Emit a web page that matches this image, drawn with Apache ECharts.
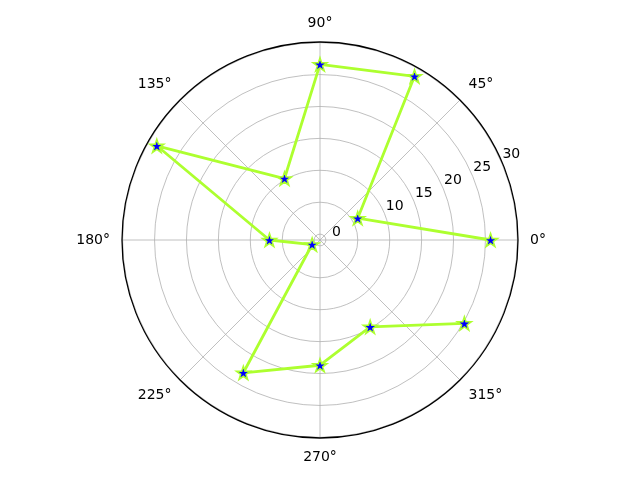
<!DOCTYPE html>
<html>
<head>
<meta charset="utf-8">
<script src="https://cdn.jsdelivr.net/npm/echarts@6/dist/echarts.min.js"></script>
<style>
  html, body { margin: 0; padding: 0; background: #fff; }
  #demo { width: 640px; height: 480px; }
</style>
</head>
<body>
<div id="demo"></div>
<script>
// 数据：角度(度) 和 半径
var angles = [0, 30, 60, 90, 120, 150, 180, 210, 240, 270, 300, 330];
var radii = [25.8, 5.9, 28.7, 26.6, 10.2, 28.6, 7.0, 0.5, 23.1, 18.7, 14.8, 25.2];
var ringValues = [0, 5, 10, 15, 20, 25, 30];
var radiusLabels = [0, 10, 15, 20, 25, 30];

// 五角星 marker
var star = 'path://M100,0 L122.45,69.1 L195.1,69.1 L136.3,111.8 L158.8,180.9 L100,138.2 L41.2,180.9 L63.7,111.8 L4.9,69.1 L77.55,69.1 Z';

var points = [];
for (var i = 0; i < angles.length; i++) {
    points.push([radii[i], angles[i]]);
}

var myChart = echarts.init(document.getElementById('demo'));
var option = {
    animation: false,
    textStyle: { fontFamily: 'DejaVu Sans' },
    polar: [
        { center: [320, 240], radius: 198 },
        { center: [320, 240], radius: 220 }
    ],
    angleAxis: [
        {
            polarIndex: 0,
            type: 'value',
            min: 0,
            max: 360,
            interval: 45,
            startAngle: 0,
            clockwise: false,
            axisLine: { show: true, lineStyle: { color: '#000', width: 1.3 } },
            axisTick: { show: false },
            axisLabel: {
                margin: 12,
                color: '#000',
                fontSize: 14,
                showMaxLabel: false,
                formatter: function (v) { return v == 360 ? '' : v + '°'; }
            },
            splitLine: { show: true, lineStyle: { color: '#b0b0b0', width: 0.8 } }
        },
        {
            polarIndex: 1,
            type: 'value',
            min: 0,
            max: 360,
            startAngle: 24,
            clockwise: false,
            show: false
        }
    ],
    radiusAxis: [
        {
            polarIndex: 0,
            type: 'value',
            min: -0.92,
            max: 30.1,
            axisLine: { show: false },
            axisTick: { show: false, customValues: ringValues },
            axisLabel: { show: false },
            splitLine: { show: true, lineStyle: { color: '#b0b0b0', width: 0.8 } }
        },
        {
            polarIndex: 1,
            type: 'value',
            min: -2.82,
            max: 31.66,
            axisLine: { show: false },
            axisTick: { show: false },
            splitLine: { show: false },
            axisLabel: {
                customValues: radiusLabels,
                margin: 0,
                align: 'center',
                verticalAlign: 'middle',
                color: '#000',
                fontSize: 14
            }
        }
    ],
    series: [{
        type: 'line',
        coordinateSystem: 'polar',
        polarIndex: 0,
        data: points,
        lineStyle: { color: '#adff2f', width: 2.8 },
        symbol: star,
        symbolSize: 14,
        symbolKeepAspect: true,
        itemStyle: { color: '#0000ff', borderColor: '#adff2f', borderWidth: 1.5 },
        z: 3
    }]
};
option && myChart.setOption(option);
</script>
</body>
</html>
